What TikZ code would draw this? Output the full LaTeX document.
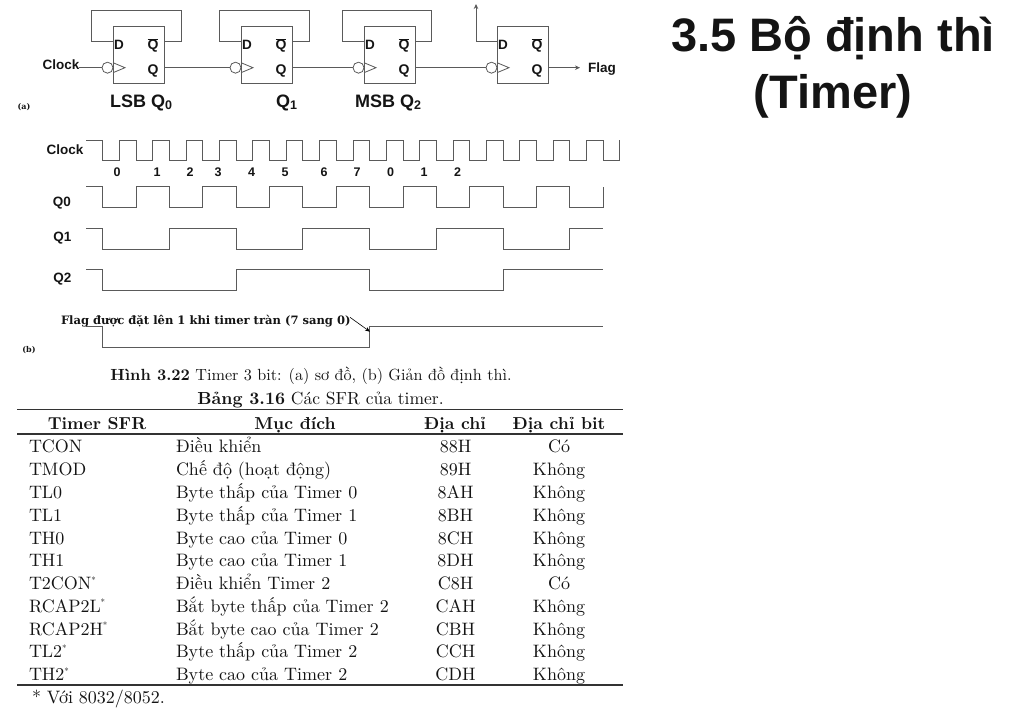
\documentclass[tikz,border=0pt]{standalone}
\usepackage{fontspec}
\usetikzlibrary{arrows.meta}
\setmainfont{lmroman10-regular}[Extension=.otf,BoldFont=lmroman10-bold,ItalicFont=lmroman10-italic]
\newfontfamily\hv{Liberation Sans}
\newfontfamily\tm{DejaVu Serif}
\definecolor{wire}{HTML}{5A5A5A}
\definecolor{ink}{HTML}{141414}
\newcommand{\fs}[1]{\fontsize{#1}{#1}\selectfont}
\tikzset{
  txt/.style={inner sep=0pt,outer sep=0pt,text=ink,anchor=base},
  txtl/.style={txt,anchor=base west},
  ffbox/.style={draw=wire,line width=0.9pt,minimum width=51pt,minimum height=57pt,inner sep=0pt,outer sep=0pt},
  bub/.style={draw=wire,line width=0.8pt,circle,minimum size=11pt,inner sep=0pt,outer sep=0pt},
  wr/.style={draw=wire,line width=0.8pt},
  wave/.style={draw=wire,line width=0.9pt,line join=miter},
  ffl/.style={txt,font=\hv\bfseries\fs{14}},
  big/.style={txt,font=\hv\bfseries\fs{18}},
  lab/.style={txt,font=\hv\bfseries\fs{13.5}},
  num/.style={txt,font=\hv\bfseries\fs{12.5}},
  tt/.style={txt,font=\fs{18}},
  ttl/.style={txtl,font=\fs{18}},
  th/.style={txt,font=\bfseries\fs{17.3}},
  rl/.style={draw=black!80,line width=1.1pt},
}
\newcommand{\ub}[1]{\raisebox{-1.5pt}{\fontsize{12.5}{12.5}\selectfont #1}}
\newcommand{\st}{\textsuperscript{\fontsize{9}{9}\selectfont *}}
\begin{document}
\begin{tikzpicture}[x=1pt,y=-1pt]
\useasboundingbox (0,0) rectangle (1023,708);
% title
\node[txt,font=\hv\bfseries\fs{47}] (title1) at (833,52) {3.5 Bộ định thì};
\node[txt,font=\hv\bfseries\fs{47}] (title2) at (833,109) {(Timer)};
% flip-flops
\foreach \i/\l in {0/113,1/241,2/364,3/497}{
  \node[ffbox] (ff\i) at (\l+25.5,54.5) {};
  \node[bub] (bub\i) at (\l-5.5,67.7) {};
  \coordinate (clkin\i) at (\l,67.7);
  \coordinate (d\i) at (\l,41.7);
  \coordinate (qb\i) at (\l+51,41.7);
  \coordinate (q\i) at (\l+51,67.7);
  \draw[wr] (\l,62.7) -- (\l+12,67.7) -- (\l,72.7);
  \node[txt,font=\hv\bfseries\fs{13.5}] (dl\i) at (\l+6,50) {D};
  \node[ffl] (qbl\i) at (\l+40,50) {$\overline{\hbox{Q}}$};
  \node[ffl] (ql\i) at (\l+40,75) {Q};
}
% feedback loops
\foreach \i/\a/\b in {0/91.7/181,1/219.5/309,2/342/431.5}{
  \coordinate (la\i) at (\a,41.7);
  \coordinate (lb\i) at (\a,10);
  \coordinate (lc\i) at (\b,10);
  \coordinate (ld\i) at (\b,41.7);
  \draw[wr] (d\i) -- (la\i) -- (lb\i) -- (lc\i) -- (ld\i) -- (qb\i);
}
\coordinate (up) at (476,4);
\draw[wr,-{Stealth[length=5pt,width=4.5pt]}] (d3) -| (up);
% clock chain
\node[txt,font=\hv\bfseries\fs{13.5}] (clk) at (61,70) {Clock};
\draw[wr] (clk.east |- bub0.west) -- (bub0.west);
\draw[wr] (q0) -- (bub1.west);
\draw[wr] (q1) -- (bub2.west);
\draw[wr] (q2) -- (bub3.west);
\node[txtl,font=\hv\bfseries\fs{13.5}] (flag) at (588,73) {Flag};
\draw[wr,shorten >=8pt,-{Stealth[length=5pt,width=4.5pt]}] (q3) -- (q3 -| flag.west);
\node[big] (n0) at (141,108) {LSB Q\ub{0}};
\node[big] (n1) at (286.5,108) {Q\ub{1}};
\node[big] (n2) at (388,108) {MSB Q\ub{2}};
\node[txt,font=\tm\bfseries\fs{8}] (pa) at (24,110) {(a)};
% timing
\pgfmathsetmacro{\per}{33.37}
\def\fall{102.7}
\def\hw{16.68}
\draw[wave] (86,140)
  \foreach \k in {0,...,14}{ -- ({\fall+\k*\per},140) -- ({\fall+\k*\per},160.7) -- ({\fall+\k*\per+\hw},160.7) -- ({\fall+\k*\per+\hw},140) }
  -- ({\fall+15*\per},140) -- ({\fall+15*\per},160.7) -- ({\fall+15*\per+\hw},160.7) -- ({\fall+15*\per+\hw},140);
% Q0
\draw[wave] (86,186.7)
  \foreach \k in {0,2,...,14}{ -- ({\fall+\k*\per},186.7) -- ({\fall+\k*\per},207.3) -- ({\fall+(\k+1)*\per},207.3) -- ({\fall+(\k+1)*\per},186.7) };
% Q1
\draw[wave] (86,228.3)
  \foreach \k in {0,4,8,12}{ -- ({\fall+\k*\per},228.3) -- ({\fall+\k*\per},249) -- ({\fall+(\k+2)*\per},249) -- ({\fall+(\k+2)*\per},228.3) }
  -- ({\fall+15*\per},228.3);
% Q2
\draw[wave] (86,269.7)
  \foreach \k in {0,8}{ -- ({\fall+\k*\per},269.7) -- ({\fall+\k*\per},290.3) -- ({\fall+(\k+4)*\per},290.3) -- ({\fall+(\k+4)*\per},269.7) }
  -- ({\fall+15*\per},269.7);
% Flag
\coordinate (rise) at ({\fall+8*\per},326.7);
\draw[wave] (86,326.7) -- (\fall,326.7) -- (\fall,347.3) -- ({\fall+8*\per},347.3) -- (rise) -- ({\fall+15*\per},326.7);
\foreach \n/\t/\x in {a/0/117,b/1/157,c/2/190,d/3/218,e/4/251.5,f/5/285,g/6/324,h/7/357,i/0/390.7,j/1/424,k/2/457.5}{
  \node[num] (c\n) at (\x,177) {\t};
}
\node[lab] (lclk) at (65,155) {Clock};
\node[lab] (lq0) at (62,207) {Q0};
\node[lab] (lq1) at (62.5,242) {Q1};
\node[lab] (lq2) at (62.5,283) {Q2};
\node[txtl,font=\tm\bfseries\fs{11.55}] (fl) at (61,324.5) {Flag được đặt lên 1 khi timer tràn (7 sang 0)};
\coordinate (fa) at (350,317.3);
\coordinate (ft) at (370,331.7);
\draw[draw=black,line width=0.6pt,-{Stealth[length=5pt,width=4pt]}] (fa) -- (ft);
\node[txt,font=\tm\bfseries\fs{8}] (pb) at (29,353) {(b)};
% captions
\node[txt,font=\fs{16.15}] (cap1) at (311,381) {\textbf{Hình 3.22} Timer 3 bit: (a) sơ đồ, (b) Giản đồ định thì.};
\node[txt,font=\fs{17.5}] (cap2) at (320.5,404.5) {\textbf{Bảng 3.16} Các SFR của timer.};
% rules
\coordinate (r1a) at (17,409.3); \coordinate (r1b) at (623,409.3);
\coordinate (r2a) at (17,434); \coordinate (r2b) at (623,434);
\coordinate (r3a) at (17,685); \coordinate (r3b) at (623,685);
\draw[rl] (r1a) -- (r1b);
\draw[rl] (r2a) -- (r2b);
\draw[rl] (r3a) -- (r3b);
% header
\node[th] (h1) at (97,430) {Timer SFR};
\node[th] (h2) at (295,430) {Mục đích};
\node[th] (h3) at (455,430) {Địa chỉ};
\node[th] (h4) at (559,430) {Địa chỉ bit};
% rows
\foreach \r/\a/\b/\c/\d in {
 0/TCON/Điều khiển/88H/Có,
 1/TMOD/Chế độ (hoạt động)/89H/Không,
 2/TL0/Byte thấp của Timer 0/8AH/Không,
 3/TL1/Byte thấp của Timer 1/8BH/Không,
 4/TH0/Byte cao của Timer 0/8CH/Không,
 5/TH1/Byte cao của Timer 1/8DH/Không,
 6/T2CON\st/Điều khiển Timer 2/C8H/Có,
 7/RCAP2L\st/Bắt byte thấp của Timer 2/CAH/Không,
 8/RCAP2H\st/Bắt byte cao của Timer 2/CBH/Không,
 9/TL2\st/Byte thấp của Timer 2/CCH/Không,
 10/TH2\st/Byte cao của Timer 2/CDH/Không}{
  \node[ttl] (ra\r) at (29,453+\r*22.75) {\a};
  \node[ttl] (rb\r) at (176,453+\r*22.75) {\b};
  \node[tt] (rc\r) at (455.5,453+\r*22.75) {\c};
  \node[tt] (rd\r) at (559,453+\r*22.75) {\d};
}
\node[txtl,font=\fs{18}] (foot) at (32,703.5) {* Với 8032/8052.};
\end{tikzpicture}
\end{document}
